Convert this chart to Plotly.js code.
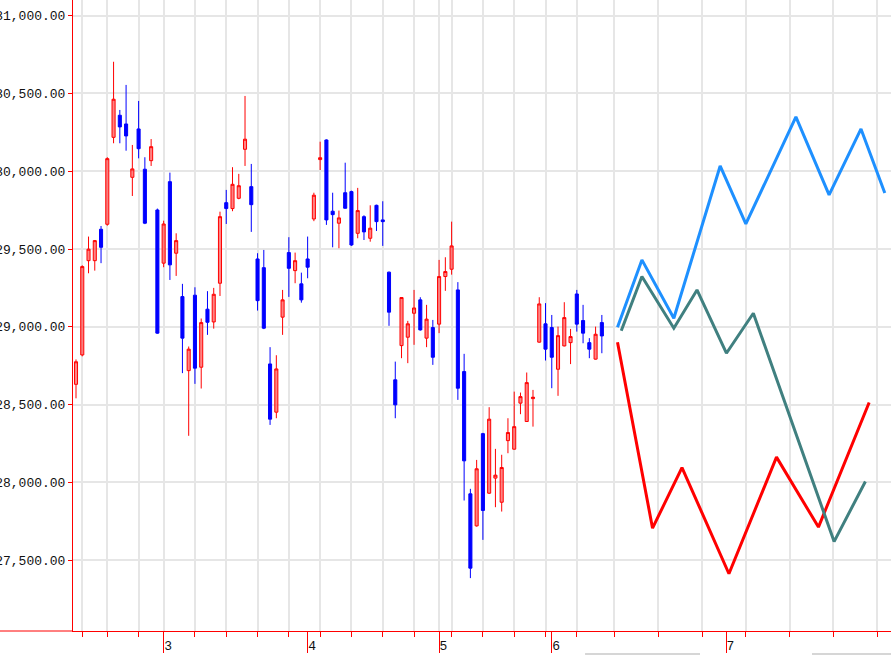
<!DOCTYPE html>
<html>
<head>
<meta charset="utf-8">
<script src="https://cdn.plot.ly/plotly-3.0.1.min.js"></script>
<style>
html,body{margin:0;padding:0;background:#fff;}
#chart{width:891px;height:655px;}
</style>
</head>
<body>
<div id="chart"></div>
<script>
// Daily candles (trading-day index 0 = first candle)
const openV  = [28630,28819,29425,29425,29627,29659,30218,30360,30304,29961,30272,30013,30068,29751,29409,29933,29473,29194,28718,29203,28740,29113,29031,29280,29798,29760,29826,30141,29901,29436,29380,28761,28451,29062,29477,29361,29276,29436,29693,30075,30201,29743,29666,29862,29869,29601,29708,29569,29781,29687,29351,28659,28879,28933,29087,29173,28927,28995,29017,29323,29370,29237,28712,27926,27720,28313,27930,28027,27872,28268,28213,28509,28391,28538,28901,29019,28995,28727,28877,28898,29211,29040,28898,28792,29027];
const highV  = [28790,29395,29580,29558,29648,30090,30704,30394,30555,30169,30452,30090,30207,29760,29682,29991,29601,29276,28873,29254,29053,29229,29250,29740,29880,30026,29983,30484,30047,29473,29494,28869,28817,29237,29576,29477,29348,29580,29862,30190,30205,29862,29747,30055,29875,29893,29717,29781,29785,29807,29355,28776,29190,29038,29237,29190,29141,29044,29430,29447,29676,29287,28826,27958,28144,28318,28483,28215,28177,28412,28583,28577,28706,28594,29190,29152,29076,29001,29158,28986,29237,29141,28927,29001,29076];
const lowV   = [28540,28810,29344,29361,29409,29650,30180,30180,30132,29841,30083,29660,30034,28955,29383,29301,29327,28702,28299,28633,28603,28948,28988,29198,29661,29743,29820,30034,29610,29104,28985,28369,28412,28948,29192,29280,29155,29312,29679,30008,29655,29511,29505,29760,29520,29569,29558,29547,29616,29520,29006,28412,28798,28766,28884,28975,28869,28755,28959,29231,29335,28530,27883,27384,27715,27630,27925,27840,27812,28187,28210,28438,28388,28358,28898,28783,28605,28556,28874,28760,28969,28894,28798,28789,28830];
const closeV = [28775,29387,29499,29554,29511,30081,30463,30285,30227,30015,30145,29666,30158,28959,29661,29398,29554,28927,28856,28734,29027,29029,29209,29708,29760,29916,29907,30206,29785,29168,28991,28406,28729,29173,29376,29425,29173,29383,29846,30087,29687,29721,29700,29762,29526,29747,29610,29634,29676,29676,29094,28498,29188,29019,29121,28980,29049,28804,29323,29355,29520,28605,28138,27448,28087,27819,28406,28046,28095,28320,28358,28551,28641,28547,29147,28856,28804,28943,29059,28937,29017,28959,28856,28952,28941];

// Projection lines (future day positions)
const blueX = [86.5, 90.4, 95.5, 102.9, 107.0, 115.0, 120.3, 125.4, 129.2];
const blueY = [28997, 29430, 29055, 30034, 29661, 30349, 29848, 30272, 29860];
const tealX = [87.1, 90.4, 95.5, 99.2, 103.9, 108.2, 121.1, 126.1];
const tealY = [28975, 29323, 28991, 29237, 28830, 29087, 27619, 28005];
const redX  = [86.5, 92.1, 96.8, 104.3, 111.9, 118.6, 126.7];
const redY  = [28901, 27705, 28095, 27412, 28162, 27712, 28513];

// Axis ticks
const weekTicks   = [1,5,10,14,19,24,29,34,39,44,49,54,58,60,65,70,75,80,86,93,100,107,114,121,128];
const monthTicks  = [14, 37, 58, 76, 103.85];
const monthLabels = ['3','4','5','6','7'];

const candleX = openV.map((_, i) => i);
const xRange = [-0.48, 130.19];
const yRange = [27044, 31101];

const traces = [
  {
    type: 'candlestick', x: candleX, open: openV, high: highV, low: lowV, close: closeV,
    increasing: {line: {color: 'rgb(255,0,0)', width: 1}, fillcolor: 'rgba(255,90,90,0.75)'},
    decreasing: {line: {color: 'rgb(0,0,255)', width: 1}, fillcolor: 'rgb(0,0,255)'},
    whiskerwidth: 0, hoverinfo: 'skip', showlegend: false
  },
  {type: 'scatter', mode: 'lines', x: redX, y: redY, line: {color: 'rgb(255,0,0)', width: 3}, hoverinfo: 'skip', showlegend: false},
  {type: 'scatter', mode: 'lines', x: tealX, y: tealY, line: {color: 'rgb(64,128,128)', width: 3}, hoverinfo: 'skip', showlegend: false},
  {type: 'scatter', mode: 'lines', x: blueX, y: blueY, line: {color: 'rgb(30,144,255)', width: 3}, hoverinfo: 'skip', showlegend: false},
  {type: 'scatter', mode: 'markers', x: monthTicks, y: monthTicks.map(() => null), xaxis: 'x2', yaxis: 'y', hoverinfo: 'skip', showlegend: false}
];

const tickFont = {family: 'Liberation Mono, DejaVu Sans Mono, monospace', size: 13, color: '#111'};

const layout = {
  width: 891, height: 655,
  margin: {l: 73, r: 0, t: 0, b: 24, pad: 0},
  paper_bgcolor: '#fff', plot_bgcolor: '#fff',
  showlegend: false,
  boxgap: 0.3, boxgroupgap: 0.3,
  xaxis: {
    type: 'linear', range: xRange, fixedrange: true,
    tickmode: 'array', tickvals: weekTicks, showticklabels: false,
    ticks: 'outside', ticklen: 5, tickcolor: 'rgb(255,0,0)', tickwidth: 1,
    showgrid: true, gridcolor: '#e6e6e6', gridwidth: 2,
    showline: true, linecolor: 'rgb(255,0,0)', linewidth: 1,
    zeroline: false, rangeslider: {visible: false}
  },
  xaxis2: {
    type: 'linear', range: xRange, overlaying: 'x', anchor: 'y', side: 'bottom', fixedrange: true,
    tickmode: 'array', tickvals: monthTicks, ticktext: monthLabels,
    ticks: 'outside', ticklen: 21, tickcolor: 'rgb(255,0,0)', tickwidth: 1,
    ticklabelposition: 'outside right', ticklabelstandoff: 2, ticklabelshift: 0,
    tickfont: tickFont,
    showgrid: false, showline: false, zeroline: false
  },
  yaxis: {
    type: 'linear', range: yRange, fixedrange: true,
    tick0: 0, dtick: 500, tickformat: ',.2f',
    ticks: 'outside', ticklen: 4, tickcolor: 'rgb(255,0,0)', tickwidth: 1,
    tickfont: tickFont,
    showgrid: true, gridcolor: '#e6e6e6', gridwidth: 2,
    showline: true, linecolor: 'rgb(255,0,0)', linewidth: 1,
    zeroline: false
  },
  shapes: [
    {type: 'line', xref: 'paper', yref: 'paper', x0: -0.1, x1: 0, y0: 0, y1: 0, line: {color: 'rgb(255,0,0)', width: 1}},
    {type: 'rect', xref: 'paper', yref: 'paper', x0: 0.626, x1: 0.7665, y0: -0.0380, y1: -0.0349, line: {width: 0}, fillcolor: '#d6d6d6', layer: 'below'},
    {type: 'rect', xref: 'paper', yref: 'paper', x0: 0.9034, x1: 1.0, y0: -0.0380, y1: -0.0349, line: {width: 0}, fillcolor: '#d6d6d6', layer: 'below'}
  ]
};

Plotly.newPlot('chart', traces, layout, {staticPlot: true, displayModeBar: false});
</script>
</body>
</html>
